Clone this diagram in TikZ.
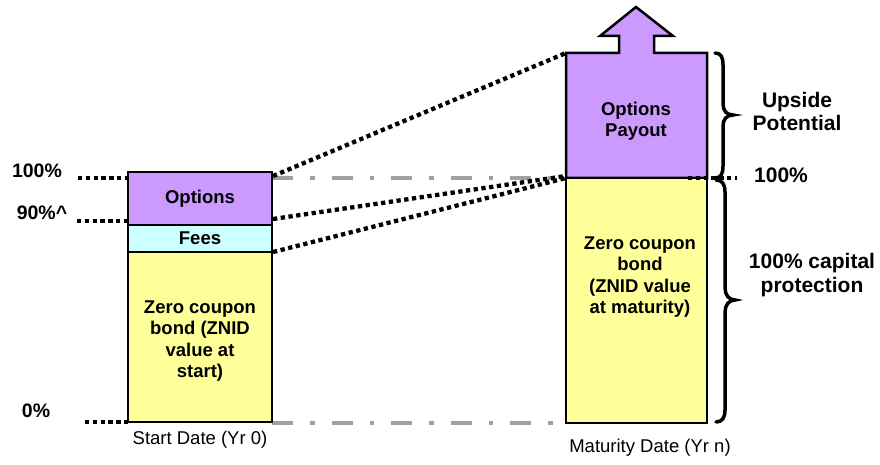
\documentclass[tikz,border=0pt]{standalone}
\usepackage{fontspec}
\setmainfont{Liberation Sans}
\definecolor{optp}{HTML}{CC99FF}
\definecolor{feec}{HTML}{CCFFFF}
\definecolor{zcby}{HTML}{FFFF99}
\definecolor{ggrey}{HTML}{A0A0A0}
\begin{document}
\begin{tikzpicture}[x=1pt,y=-1pt,
  bx/.style={draw=black,line width=2.5pt,inner sep=0pt,align=center,font=\bfseries\fontsize{18.5}{21.5}\selectfont},
  lbl/.style={inner sep=0pt,align=center,font=\bfseries\fontsize{18.5}{21.5}\selectfont},
  sidelbl/.style={inner sep=0pt,align=center,font=\bfseries\fontsize{21}{23.5}\selectfont},
  pct/.style={inner sep=0pt,font=\bfseries\fontsize{19.5}{22}\selectfont},
  datecap/.style={inner sep=0pt,font=\fontsize{18.5}{21.5}\selectfont},
  blkdot/.style={line width=4.3pt,dash pattern=on 4.3pt off 3.5pt},
  greydd/.style={draw=ggrey,line width=4pt,dash pattern=on 21pt off 17pt on 4.5pt off 17pt},
  brc/.style={line width=3.5pt,line cap=round}]
\useasboundingbox (0,0) rectangle (880,465);

% grey dash-dot reference lines
\coordinate (g1a) at (272,178);
\coordinate (g1b) at (566,178);
\coordinate (g2a) at (272,423);
\coordinate (g2b) at (566,423);
\draw[greydd] (g1a) -- (g1b);
\draw[greydd] (g2a) -- (g2b);

% left bar
\node[bx,fill=optp,minimum width=144pt,minimum height=53pt] (opt) at (200,198.5) {Options};
\node[bx,fill=feec,minimum width=144pt,minimum height=27pt] (fee) at (200,238.5) {Fees};
\node[bx,fill=zcby,minimum width=144pt,minimum height=170pt] (zcb) at (200,337) {};
\node[lbl] (zcbt) at (200,341) {Zero coupon\\bond (ZNID\\value at\\start)};

% right bar with arrow
\draw[fill=optp,line width=2.5pt,line join=miter] (566,178) -- (566,53) -- (619,53) -- (619,36) -- (600,36) -- (636,7) -- (673,36) -- (654,36) -- (654,53) -- (707,53) -- (707,178) -- cycle;
\node[lbl] (pay) at (636,121) {Options\\Payout};
\node[bx,fill=zcby,minimum width=141pt,minimum height=245pt] (zcbr) at (636.5,300.5) {};
\node[lbl] (zcbrt) at (640,277) {Zero coupon\\bond\\(ZNID value\\at maturity)};

% connectors
\coordinate (c1a) at (273,176);
\coordinate (c1b) at (566,53);
\coordinate (c2a) at (273,219);
\coordinate (c2b) at (566,176);
\coordinate (c3a) at (273,252);
\coordinate (c3b) at (566,178);
\draw[blkdot] (c1a) -- (c1b);
\draw[blkdot] (c2a) -- (c2b);
\draw[blkdot] (c3a) -- (c3b);

% level markers
\coordinate (m1a) at (78,178);  \coordinate (m1b) at (128,178);
\coordinate (m2a) at (77,221);  \coordinate (m2b) at (128,221);
\coordinate (m3a) at (85,422);  \coordinate (m3b) at (128,422);
\coordinate (m4a) at (688,178); \coordinate (m4b) at (737,178);
\draw[blkdot] (m1a) -- (m1b);
\draw[blkdot] (m2a) -- (m2b);
\draw[blkdot] (m3a) -- (m3b);
\draw[blkdot] (m4a) -- (m4b);

\node[pct] (p100) at (37,171) {100\%};
\node[pct] (p90) at (42,213) {90\%\^{}};
\node[pct] (p0) at (36,411) {0\%};
\node[sidelbl] (r100) at (781,175) {100\%};

% braces
\draw[brc] (715,53) .. controls (721,53) and (723,57) .. (723,65) -- (723,104) .. controls (723,111) and (727,115) .. (733,115) .. controls (727,115) and (723,119) .. (723,126) -- (723,166) .. controls (723,174) and (721,178) .. (715,178);
\draw[brc] (716,180) .. controls (722,180) and (725,184) .. (725,192) -- (725,288) .. controls (725,295) and (729,300) .. (735,300) .. controls (729,300) and (725,305) .. (725,312) -- (725,410) .. controls (725,418) and (722,422) .. (716,422);

\node[sidelbl] (ups) at (797,111.5) {Upside\\Potential};
\node[sidelbl] (protect) at (812,275) {100\% capital\\protection};

\node[datecap] (sd) at (200,440) {Start Date (Yr 0)};
\node[datecap] (md) at (650,448) {Maturity Date (Yr n)};
\end{tikzpicture}
\end{document}
